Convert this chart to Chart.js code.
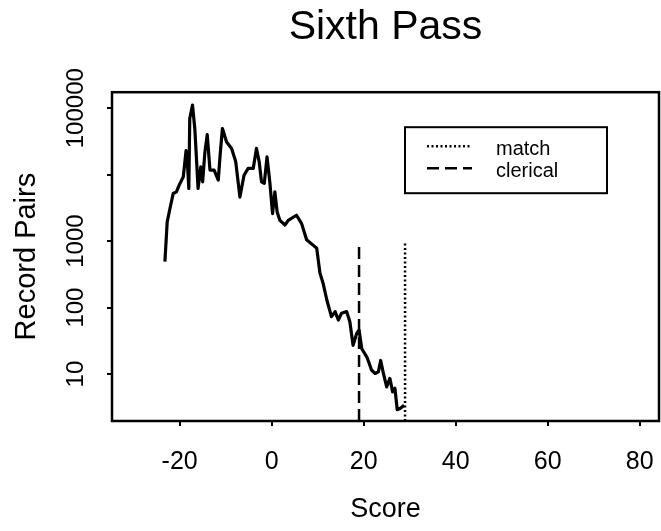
<!DOCTYPE html>
<html>
<head>
<meta charset="utf-8">
<title>Sixth Pass</title>
<script src="https://cdn.jsdelivr.net/npm/chart.js@4/dist/chart.umd.min.js"></script>
<style>
  html, body { margin: 0; padding: 0; background: #fff; }
  #wrap { width: 661px; height: 531px; }
</style>
</head>
<body>
<div id="wrap"><canvas id="passChart" width="661" height="531"></canvas></div>
<script>
const FONT = "'Liberation Sans', Arial, Helvetica, sans-serif";

// matching score -> number of record pairs at that score
const scores = [-23.2, -22.7, -22.1, -21.4, -20.7, -20.1, -19.2, -18.6, -18.3, -18.0,
    -17.8, -17.2, -16.7, -16.3, -16.0, -15.4, -15.0, -14.5, -14.0, -13.4,
    -12.5, -11.6, -11.2, -10.7, -9.8, -8.7, -7.8, -6.9, -6.0, -5.1,
    -4.0, -3.3, -2.7, -2.2, -1.6, -1.0, -0.4, 0.2, 0.7, 1.2,
    1.8, 2.9, 3.6, 5.4, 6.5, 7.6, 9.0, 9.8, 10.5, 11.2,
    12.0, 13.0, 13.8, 14.5, 15.2, 16.3, 17.0, 17.7, 18.5, 19.0,
    19.6, 20.7, 21.2, 21.7, 22.5, 23.2, 23.7, 24.3, 25.0, 25.7,
    26.3, 26.8, 27.3, 28.0, 28.8];
const pairs = [490, 1950, 3100, 5200, 5500, 6950, 9300, 23000, 14700, 6200,
    70000, 111000, 49500, 15600, 6200, 13100, 7800, 22000, 40000, 11700,
    11700, 8300, 19600, 49500, 31000, 24800, 15600, 4600, 9800, 12400,
    12400, 24800, 15600, 7800, 7400, 18500, 7800, 2600, 5500, 2750,
    2050, 1750, 2050, 2450, 1850, 1050, 870, 780, 330, 230,
    130, 73, 87, 65, 82, 87, 61, 27, 41, 46,
    24, 18, 14.5, 11.5, 10.2, 10.8, 16, 10.2, 6.4, 8.6,
    5.4, 6.1, 2.9, 3.05, 3.4];

// cutoff lines
const clericalScore = 19;
const matchScore = 29;
const cutoffTop = 1000;

// axes
const xMin = -34.7, xMax = 84.2;
const yMin = 1.965, yMax = 174000;
const xTicks = [-20, 0, 20, 40, 60, 80];
const yTicks = [10, 100, 1000, 10000, 100000];
const yTickLabels = ['10', '100', '1000', '', '100000'];

Chart.defaults.font.family = FONT;
Chart.defaults.color = '#000';

function cutoffLine(score) {
    return [{ x: score, y: yMin }, { x: score, y: cutoffTop }];
}

// box around the plot region
const plotFrame = {
    id: 'plotFrame',
    afterDatasetsDraw(chart) {
        const { ctx, chartArea: a } = chart;
        ctx.save();
        ctx.strokeStyle = '#000';
        ctx.lineWidth = 2.5;
        ctx.strokeRect(a.left, a.top, a.right - a.left, a.bottom - a.top);
        ctx.restore();
    }
};

// y tick labels written along the axis (bottom to top)
const verticalYLabels = {
    id: 'verticalYLabels',
    afterDraw(chart) {
        const scale = chart.scales.y;
        const ctx = chart.ctx;
        ctx.save();
        ctx.font = '24px ' + FONT;
        ctx.fillStyle = '#000';
        ctx.textAlign = 'center';
        ctx.textBaseline = 'middle';
        yTicks.forEach((v, i) => {
            const py = scale.getPixelForValue(v);
            ctx.save();
            ctx.translate(scale.right - 36, py);
            ctx.rotate(-Math.PI / 2);
            ctx.fillText(yTickLabels[i], 0, 0);
            ctx.restore();
        });
        ctx.restore();
    }
};

// legend box in the upper right of the plot
const cutoffLegend = {
    id: 'cutoffLegend',
    afterDraw(chart) {
        const { ctx, chartArea: a } = chart;
        const left = a.right - 254, top = a.top + 35;
        const entries = [chart.data.datasets[2], chart.data.datasets[1]];
        ctx.save();
        ctx.strokeStyle = '#000';
        ctx.lineWidth = 2;
        ctx.strokeRect(left, top, 202, 66);
        ctx.font = '20px ' + FONT;
        ctx.fillStyle = '#000';
        ctx.textBaseline = 'alphabetic';
        entries.forEach((ds, i) => {
            const ly = top + 19 + i * 22;
            ctx.beginPath();
            ctx.setLineDash(ds.borderDash);
            ctx.lineWidth = ds.borderWidth;
            ctx.moveTo(left + 22, ly);
            ctx.lineTo(left + 67, ly);
            ctx.stroke();
            ctx.fillText(ds.label, left + 91, ly + 9);
        });
        ctx.restore();
    }
};

new Chart(document.getElementById('passChart'), {
    type: 'line',
    data: {
        datasets: [{
            label: 'pairs',
            data: scores.map((s, i) => ({ x: s, y: pairs[i] })),
            borderColor: '#000',
            borderWidth: 3.2,
            borderJoinStyle: 'round',
            pointRadius: 0,
            tension: 0
        }, {
            label: 'clerical',
            data: cutoffLine(clericalScore),
            borderColor: '#000',
            borderWidth: 2.5,
            borderDash: [12, 6],
            pointRadius: 0
        }, {
            label: 'match',
            data: cutoffLine(matchScore),
            borderColor: '#000',
            borderWidth: 2.5,
            borderDash: [2, 2.5],
            pointRadius: 0
        }]
    },
    options: {
        responsive: false,
        animation: false,
        layout: { padding: { left: 0, right: 2, top: 0, bottom: 0 } },
        plugins: {
            legend: { display: false },
            tooltip: { enabled: false },
            title: {
                display: true,
                text: 'Sixth Pass',
                fullSize: false,
                color: '#000',
                font: { size: 41, weight: 'normal' },
                padding: { top: 3, bottom: 40 }
            }
        },
        scales: {
            x: {
                type: 'linear',
                min: xMin,
                max: xMax,
                afterBuildTicks: scale => { scale.ticks = xTicks.map(v => ({ value: v })); },
                afterFit: scale => {
                    scale.height = 110;
                    scale.paddingLeft = 0;
                    scale.paddingRight = 0;
                },
                border: { display: false },
                grid: { drawOnChartArea: false, tickLength: 5, color: '#000', lineWidth: 2 },
                ticks: { font: { size: 25 }, padding: 21, maxRotation: 0 },
                title: { display: true, text: 'Score', font: { size: 27 }, padding: { top: 0, bottom: 5 } }
            },
            y: {
                type: 'logarithmic',
                min: yMin,
                max: yMax,
                afterBuildTicks: scale => { scale.ticks = yTicks.map(v => ({ value: v })); },
                afterFit: scale => {
                    scale.width = 112;
                    scale.paddingTop = 0;
                    scale.paddingBottom = 0;
                },
                border: { display: false },
                grid: { drawOnChartArea: false, tickLength: 5, color: '#000', lineWidth: 2 },
                ticks: { display: false },
                title: { display: true, text: 'Record Pairs', font: { size: 29 }, padding: { top: 10, bottom: 0 } }
            }
        }
    },
    plugins: [plotFrame, verticalYLabels, cutoffLegend]
});
</script>
</body>
</html>
